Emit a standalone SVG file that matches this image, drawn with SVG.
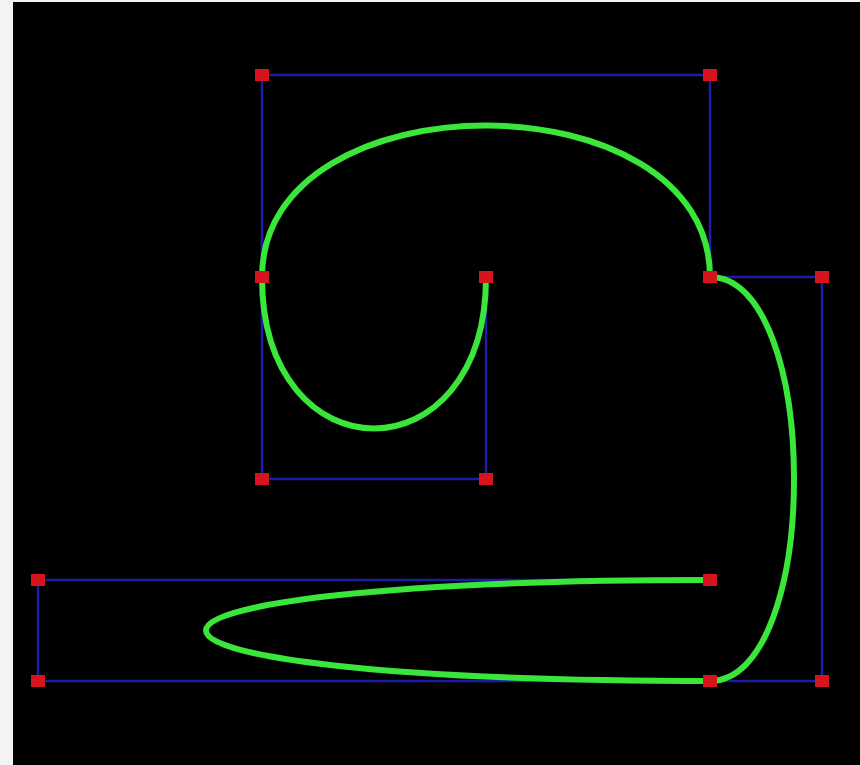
<svg xmlns="http://www.w3.org/2000/svg" width="860" height="765" viewBox="0 0 860 765">
<style>
.ctl{fill:none;stroke:#1c1ca8;stroke-width:2.5}
.crv{fill:none;stroke:#3ae63a;stroke-width:6;stroke-linecap:butt}
.pt{fill:#d6141e}
</style>
<rect x="0" y="0" width="860" height="765" fill="#f3f3f3"/>
<rect x="13" y="2" width="847" height="763" fill="#000"/>
<g id="connectors">
<polyline class="ctl" points="262,277 262,75 710,75 710,277"/>
<polyline class="ctl" points="486,277 486,479 262,479 262,277"/>
<polyline class="ctl" points="710,277 822,277 822,681 710,681"/>
<polyline class="ctl" points="710,681 38,681 38,580 710,580"/>
<path id="curve" class="crv" d="M486,277 C486,479 262,479 262,277 C262,75 710,75 710,277 C822,277 822,681 710,681 C38,681 38,580 710,580"/>
</g>
<g id="p1"><rect class="pt" x="255" y="69" width="14" height="12"/></g>
<g id="p2"><rect class="pt" x="703" y="69" width="14" height="12"/></g>
<g id="p3"><rect class="pt" x="255" y="271" width="14" height="12"/></g>
<g id="p4"><rect class="pt" x="479" y="271" width="14" height="12"/></g>
<g id="p5"><rect class="pt" x="703" y="271" width="14" height="12"/></g>
<g id="p6"><rect class="pt" x="815" y="271" width="14" height="12"/></g>
<g id="p7"><rect class="pt" x="255" y="473" width="14" height="12"/></g>
<g id="p8"><rect class="pt" x="479" y="473" width="14" height="12"/></g>
<g id="p9"><rect class="pt" x="31" y="574" width="14" height="12"/></g>
<g id="p10"><rect class="pt" x="703" y="574" width="14" height="12"/></g>
<g id="p11"><rect class="pt" x="31" y="675" width="14" height="12"/></g>
<g id="p12"><rect class="pt" x="703" y="675" width="14" height="12"/></g>
<g id="p13"><rect class="pt" x="815" y="675" width="14" height="12"/></g>
</svg>
